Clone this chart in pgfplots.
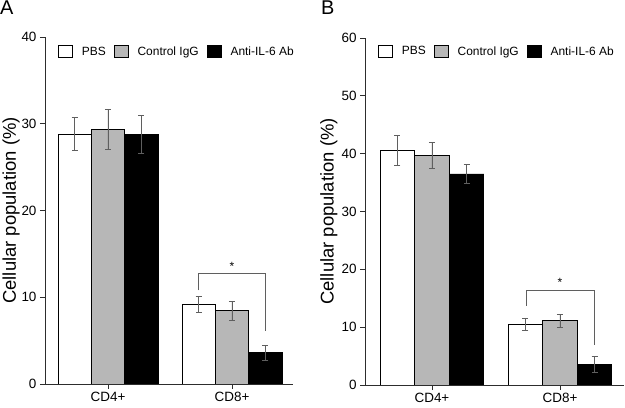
\documentclass[border=0pt]{standalone}
\usepackage{pgfplots}
\pgfplotsset{compat=1.18}
\usepackage{fontspec}
\setmainfont{Liberation Sans}
\definecolor{barGray}{RGB}{183,183,183}
\definecolor{errGray}{RGB}{95,95,95}
\definecolor{axGray}{RGB}{45,45,45}
\newcommand{\tickfont}{\fontsize{13.5}{16}\selectfont}
\newcommand{\legfont}{\fontsize{12}{14}\selectfont}
\pgfplotsset{
 mystyle/.style={
  scale only axis,
  axis x line*=bottom, axis y line*=left,
  axis line style={axGray, line width=0.9bp, -},
  ymin=0,
  xtick={0,1}, xticklabels={\tickfont CD4+,\tickfont CD8+},
  yticklabel={\tickfont\pgfmathprintnumber{\tick}},
  tick style={axGray, line width=0.8bp},
  tick align=outside,
  major tick length=5bp,
  /pgf/number format/assume math mode=true,
  ybar, bar shift=0pt,
  every axis plot/.append style={draw=black, line width=0.7bp},
  error bars/y dir=both, error bars/y explicit,
  error bars/error bar style={errGray, line width=0.8bp},
  error bars/error mark options={errGray, mark size=3bp, line width=0.8bp, rotate=90},
  legend columns=-1,
  legend style={draw=none, fill=none, inner sep=0pt, anchor=north west,
    nodes={inner sep=1bp},
    /tikz/every odd column/.append style={column sep=8bp},
    /tikz/every even column/.append style={column sep=7bp}},
  ylabel={Cellular population (\%)},
  ylabel style={anchor=center, font=\fontsize{18.5}{22}\selectfont},
 }
}
\begin{document}
\begin{tikzpicture}
\path[use as bounding box] (0,0) rectangle (625bp,408bp);
\node[anchor=north west, inner sep=0pt, font=\fontsize{20}{24}\selectfont] at (0bp,407bp) {A};
\node[anchor=north west, inner sep=0pt, font=\fontsize{20}{24}\selectfont] at (321bp,407bp) {B};
% Panel A
\begin{axis}[mystyle, at={(45bp,24bp)}, anchor=south west,
  width=248bp, height=347bp, xmin=-0.508, xmax=1.492, ymax=40,
  ytick={0,10,20,30,40}, bar width=0.266,
  legend image code/.code={\draw[#1, draw=black, line width=0.8bp] (0bp,-6bp) rectangle (14bp,6bp);},
  ylabel style={at={(rel axis cs:-0.137,0.5)}},
  legend style={at={(rel axis cs:0.052,0.977)}}]
\addplot[fill=white] coordinates {(-0.27,28.8) +- (0,1.9) (0.73,9.15) +- (0,0.9)};
\addplot[fill=barGray] coordinates {(0,29.3) +- (0,2.3) (1,8.45) +- (0,1.1)};
\addplot[fill=black] coordinates {(0.27,28.8) +- (0,2.2) (1.27,3.6) +- (0,0.85)};
\legend{\legfont PBS, \legfont Control IgG, \legfont Anti-IL-6 Ab}
\draw[errGray, line width=0.8bp] (axis cs:0.726,10.8) |- (axis cs:1.266,12.8) -- (axis cs:1.266,6.1);
\node[anchor=base, inner sep=0pt, font=\fontsize{12}{14}\selectfont] at (axis cs:1,13.1) {*};
\end{axis}
% Panel B
\begin{axis}[mystyle, at={(365bp,23bp)}, anchor=south west,
  width=259bp, height=347bp, xmin=-0.523, xmax=1.5, ymax=60,
  ytick={0,10,20,30,40,50,60}, bar width=0.27,
  legend image code/.code={\draw[#1, draw=black, line width=0.8bp] (0bp,-6bp) rectangle (14bp,6bp);},
  ylabel style={at={(rel axis cs:-0.14,0.5)}},
  legend style={at={(rel axis cs:0.05,0.98)}}]
\addplot[fill=white] coordinates {(-0.27,40.5) +- (0,2.6) (0.73,10.5) +- (0,1.1)};
\addplot[fill=barGray] coordinates {(0,39.7) +- (0,2.3) (1,11.1) +- (0,1.1)};
\addplot[fill=black] coordinates {(0.27,36.5) +- (0,1.7) (1.27,3.6) +- (0,1.4)};
\legend{\legfont PBS, \legfont Control IgG, \legfont Anti-IL-6 Ab}
\draw[errGray, line width=0.8bp] (axis cs:0.734,13.7) |- (axis cs:1.266,16.4) -- (axis cs:1.266,6.9);
\node[anchor=base, inner sep=0pt, font=\fontsize{12}{14}\selectfont] at (axis cs:1,17.0) {*};
\end{axis}
\end{tikzpicture}
\end{document}
